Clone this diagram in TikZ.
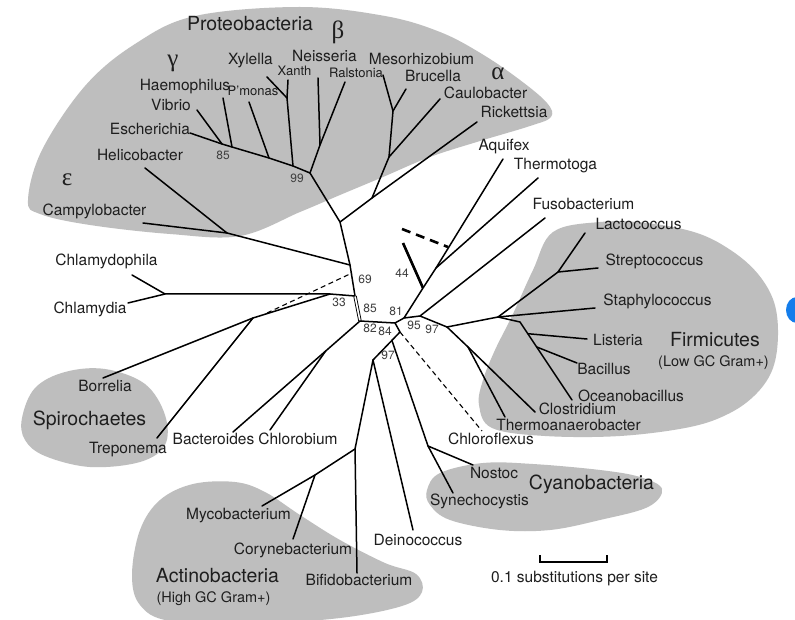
\documentclass[tikz,border=0pt]{standalone}
\usepackage{fontspec}
\setmainfont{TeX Gyre Heros}
\newfontfamily\greekfont{Liberation Serif}
\usetikzlibrary{calc}
\definecolor{blob}{RGB}{190,190,190}
\definecolor{ink}{RGB}{30,30,30}
\definecolor{bluedot}{RGB}{20,125,235}
\begin{document}
\begin{tikzpicture}[x=1pt,y=-1pt,
  br/.style={line width=1.5pt, line cap=round, line join=round},
  dbl/.style={line width=0.9pt, double=white, double distance=1.6pt},
  dsh/.style={line width=1.1pt, dash pattern=on 5pt off 3.5pt},
  thk/.style={line width=2.6pt},
  thkdash/.style={line width=2.6pt, dash pattern=on 9pt off 6pt},
  sp/.style={font=\fontsize{15.5}{17}\selectfont, text=ink, inner sep=0pt, anchor=mid},
  sm/.style={font=\fontsize{13}{15}\selectfont, text=ink, inner sep=0pt, anchor=mid},
  grp/.style={font=\fontsize{19.5}{22}\selectfont, text=ink, inner sep=0pt, anchor=mid},
  sub/.style={font=\fontsize{14.5}{16}\selectfont, text=ink, inner sep=0pt, anchor=mid},
  bs/.style={font=\fontsize{12}{14}\selectfont, text=ink!85, inner sep=0pt, anchor=mid},
  gk/.style={font=\greekfont\fontsize{25}{27}\selectfont, text=ink, inner sep=0pt, anchor=mid},
  blobfill/.style={fill=blob, draw=none}
]
\useasboundingbox (0,0) rectangle (795,620);
\fill[white] (0,0) rectangle (795,620);

% ---------- group blobs ----------
\fill[blobfill] plot[smooth cycle, tension=0.6] coordinates {
  (28,200) (42,150) (85,86) (135,44) (195,16) (300,7) (385,16) (440,32) (482,54)
  (520,80) (547,103) (551,117) (530,126) (480,141) (430,157) (383,177)
  (340,195) (300,212) (240,236) (170,234) (90,225) (40,214)};
\fill[blobfill] plot[smooth cycle, tension=0.6] coordinates {
  (22,418) (35,388) (65,372) (105,369) (145,384) (165,415) (165,445)
  (140,462) (90,467) (45,456) (25,440)};
\fill[blobfill] plot[smooth cycle, tension=0.6] coordinates {
  (553,232) (600,222) (647,223) (697,233) (732,251) (758,274) (774,302)
  (778,335) (773,368) (757,393) (730,413) (690,427) (620,436) (545,436)
  (492,428) (479,405) (483,380) (495,350) (512,316) (533,270)};
\fill[blobfill] plot[smooth cycle, tension=0.6] coordinates {
  (427,490) (440,473) (483,463) (533,464) (600,470) (640,477) (662,489)
  (648,507) (600,520) (550,530) (500,530) (450,520) (430,505)};
\fill[blobfill] plot[smooth cycle, tension=0.6] coordinates {
  (132,575) (140,530) (160,500) (193,484) (235,482) (265,492) (300,515)
  (340,540) (385,563) (416,574) (422,592) (402,606) (340,618) (250,624)
  (170,621) (140,605)};
\fill[bluedot] (797,310) ellipse [x radius=11pt, y radius=13pt];

% ---------- coordinates ----------
% Proteobacteria
\coordinate (eEsch) at (190,133);
\coordinate (eVib) at (197,110);
\coordinate (eHae) at (223,98);
\coordinate (ePmo) at (249,102);
\coordinate (eXyl) at (267,77);
\coordinate (eXan) at (288,80);
\coordinate (eNei) at (318,78);
\coordinate (eRal) at (345,82);
\coordinate (eMes) at (383,75);
\coordinate (eBru) at (406,89);
\coordinate (eCau) at (440,99);
\coordinate (eRic) at (477,122);
\coordinate (eHel) at (145,168);
\coordinate (eCam) at (143,223);
\coordinate (gEV) at (222,144);
\coordinate (gH) at (232,147);
\coordinate (gP) at (269,158);
\coordinate (gX) at (293,166);
\coordinate (nXX) at (287,98);
\coordinate (n99) at (310,173);
\coordinate (nNR) at (320,145);
\coordinate (nA) at (340,222);
\coordinate (nR) at (372,198);
\coordinate (nC) at (389,157);
\coordinate (nMB) at (393,111);
\coordinate (nEps) at (227,233);
% trunk
\coordinate (n69) at (350,265);
\coordinate (nDash1) at (352,273);
\coordinate (n85) at (355,296);
\coordinate (n82) at (360,321);
% Chlamydiae / Spirochaetes
\coordinate (eCph) at (132,275);
\coordinate (eCla) at (128,303);
\coordinate (nChl) at (165,294);
\coordinate (nSp) at (330,294);
\coordinate (nSpir) at (253,318);
\coordinate (nDash0) at (267,313);
\coordinate (eBor) at (103,378);
\coordinate (eTre) at (157,438);
% Bacteroides / Chlorobium
\coordinate (eBac) at (233,432);
\coordinate (eChb) at (270,430);
\coordinate (nBC) at ($(n82)!0.27!(eBac)$);
% centre
\coordinate (nc) at (395,323);
\coordinate (n81) at (404,318);
\coordinate (n44) at (423,288);
\coordinate (nAT) at (436,268);
\coordinate (nDashE) at (448,247);
\coordinate (e44) at (403,243);
\coordinate (nD44) at (402,229);
\coordinate (eAqu) at (503,159);
\coordinate (eThe) at (538,178);
\coordinate (n95) at (420,316);
\coordinate (eFus) at (545,218);
\coordinate (n97) at (447,327);
% Firmicutes
\coordinate (nF) at (498,317);
\coordinate (nLS) at (558,272);
\coordinate (eLac) at (585,233);
\coordinate (eStr) at (598,268);
\coordinate (eSta) at (595,308);
\coordinate (nB1) at (520,322);
\coordinate (eOce) at (572,400);
\coordinate (nB2) at ($(nB1)!0.15!(eOce)$);
\coordinate (nB3) at ($(nB1)!0.32!(eOce)$);
\coordinate (eLis) at (587,339);
\coordinate (eBcl) at (577,363);
\coordinate (nCl) at (468,347);
\coordinate (eClo) at (535,412);
\coordinate (eTan) at (505,417);
% lower
\coordinate (n84) at (400,332);
\coordinate (n97b) at (373,360);
\coordinate (nCy) at ($(n84)!0.3!(n97b)$);
\coordinate (eChf) at (482,431);
\coordinate (nCy2) at (428,446);
\coordinate (eNos) at (473,465);
\coordinate (eSyn) at (453,493);
\coordinate (eDei) at (413,530);
\coordinate (nAc) at (355,449);
\coordinate (eBif) at (357,573);
\coordinate (nAc2) at (315,475);
\coordinate (eMyc) at (262,506);
\coordinate (eCor) at (293,539);
% scale bar
\coordinate (sb1) at (540,562);
\coordinate (sb2) at (607,562);

% ---------- branches ----------
\draw[br] (eEsch) -- (gEV) -- (gH) -- (gP) -- (gX) -- (n99);
\draw[br] (eVib) -- (gEV);
\draw[br] (eHae) -- (gH);
\draw[br] (ePmo) -- (gP);
\draw[br] (eXyl) -- (nXX) -- (gX);
\draw[br] (eXan) -- (nXX);
\draw[br] (eNei) -- (nNR) -- (n99);
\draw[br] (eRal) -- (nNR);
\draw[br] (n99) -- (nA) -- (nR) -- (eRic);
\draw[br] (nR) -- (nC) -- (nMB) -- (eMes);
\draw[br] (nMB) -- (eBru);
\draw[br] (nC) -- (eCau);
\draw[br] (eHel) -- (nEps) -- (n69);
\draw[br] (eCam) -- (nEps);
\draw[br] (nA) -- (n69) -- (n85);
\draw[dbl] (n85) -- (n82);
\draw[br] (eCph) -- (nChl) -- (nSp) -- (n85);
\draw[br] (eCla) -- (nChl);
\draw[br] (eBor) -- (nSpir) -- (nSp);
\draw[br] (eTre) -- (nSpir);
\draw[dsh] (nDash0) -- (nDash1);
\draw[br] (n82) -- (eBac);
\draw[br] (nBC) -- (eChb);
\draw[br] (n82) -- (nc) -- (n81) -- (n95) -- (n97);
\draw[br] (n81) -- (n44) -- (nAT) -- (eAqu);
\draw[br] (nAT) -- (eThe);
\draw[thk] (n44) -- (e44);
\draw[thkdash] (nD44) -- (nDashE);
\draw[br] (n95) -- (eFus);
\draw[br] (n97) -- (nF) -- (nLS) -- (eLac);
\draw[br] (nLS) -- (eStr);
\draw[br] (nF) -- (eSta);
\draw[br] (nF) -- (nB1) -- (eOce);
\draw[br] (nB2) -- (eLis);
\draw[br] (nB3) -- (eBcl);
\draw[br] (n97) -- (nCl) -- (eClo);
\draw[br] (nCl) -- (eTan);
\draw[br] (nc) -- (n84) -- (n97b);
\draw[dsh] (n84) -- (eChf);
\draw[br] (nCy) -- (nCy2) -- (eNos);
\draw[br] (nCy2) -- (eSyn);
\draw[br] (n97b) -- (eDei);
\draw[br] (n97b) -- (nAc) -- (eBif);
\draw[br] (nAc) -- (nAc2) -- (eMyc);
\draw[br] (nAc2) -- (eCor);
\draw[line width=1.5pt] ($(sb1)+(0,-7)$) -- (sb1) -- (sb2) -- ($(sb2)+(0,-7)$);

% ---------- labels ----------
\node[grp] (tProt) at (250,28) {Proteobacteria};
\node[gk] (tBeta) at (338,36) {β};
\node[gk] (tGam) at (173,64) {γ};
\node[gk] (tAlp) at (498,77) {α};
\node[gk] (tEps) at (67,183) {ε};
\node[sp] (tXyl) at (250.5,62) {Xylella};
\node[sp] (tNei) at (324.5,59) {Neisseria};
\node[sp] (tMes) at (421.5,62) {Mesorhizobium};
\node[sm] (tXan) at (294.5,73) {Xanth};
\node[sm] (tRal) at (356,75) {Ralstonia};
\node[sp] (tHae) at (185,88) {Haemophilus};
\node[sm] (tPmo) at (253,93) {P’monas};
\node[sp] (tBru) at (433,79) {Brucella};
\node[sp] (tCau) at (485.5,96) {Caulobacter};
\node[sp] (tRic) at (514,115) {Rickettsia};
\node[sp] (tVib) at (171,108) {Vibrio};
\node[sp] (tEsc) at (150,132) {Escherichia};
\node[sp] (tHel) at (140,158) {Helicobacter};
\node[sp] (tCam) at (94.5,213) {Campylobacter};
\node[sp] (tAqu) at (504,148) {Aquifex};
\node[sp] (tThe) at (555.5,167) {Thermotoga};
\node[sp] (tFus) at (583.5,207) {Fusobacterium};
\node[sp] (tLac) at (638.5,227) {Lactococcus};
\node[sp] (tStr) at (654.5,263) {Streptococcus};
\node[sp] (tCph) at (106.5,263) {Chlamydophila};
\node[sp] (tCla) at (90,311) {Chlamydia};
\node[sp] (tSta) at (657.5,303) {Staphylococcus};
\node[sp] (tLis) at (618,343) {Listeria};
\node[sp] (tBcl) at (604,372) {Bacillus};
\node[sp] (tOce) at (631,399) {Oceanobacillus};
\node[grp] (tFir) at (715,344) {Firmicutes};
\node[sub] (tFir2) at (713.5,364) {(Low GC Gram+)};
\node[sp] (tBor) at (105,389) {Borrelia};
\node[grp] (tSpi) at (89.5,423) {Spirochaetes};
\node[sp] (tTre) at (128,451) {Treponema};
\node[sp] (tClo) at (577.5,412) {Clostridium};
\node[sp] (tTan) at (568.5,428) {Thermoanaerobacter};
\node[sp] (tChf) at (491,442) {Chloroflexus};
\node[sp] (tBac) at (213.5,442) {Bacteroides};
\node[sp] (tChb) at (298,442) {Chlorobium};
\node[sp] (tNos) at (494,476) {Nostoc};
\node[sp] (tSyn) at (479.5,503) {Synechocystis};
\node[grp] (tCya) at (591.5,487) {Cyanobacteria};
\node[sp] (tMyc) at (238.5,517) {Mycobacterium};
\node[sp] (tDei) at (418,543) {Deinococcus};
\node[sp] (tCor) at (293,552) {Corynebacterium};
\node[sp] (tBif) at (359,583) {Bifidobacterium};
\node[grp] (tAct) at (217.5,580) {Actinobacteria};
\node[sub] (tAct2) at (213.5,600) {(High GC Gram+)};
\node[sp] (tScale) at (574.5,580) {0.1 substitutions per site};
% bootstrap values
\node[bs] (b85a) at (223,157) {85};
\node[bs] (b99) at (297,180) {99};
\node[bs] (b69) at (365,281) {69};
\node[bs] (b33) at (339,304) {33};
\node[bs] (b85b) at (370,310) {85};
\node[bs] (b81) at (396,313) {81};
\node[bs] (b82) at (370,330) {82};
\node[bs] (b84) at (385,333) {84};
\node[bs] (b95) at (414,327) {95};
\node[bs] (b97a) at (432,331) {97};
\node[bs] (b97b) at (388,357) {97};
\node[bs] (b44) at (402,275) {44};
\end{tikzpicture}
\end{document}
